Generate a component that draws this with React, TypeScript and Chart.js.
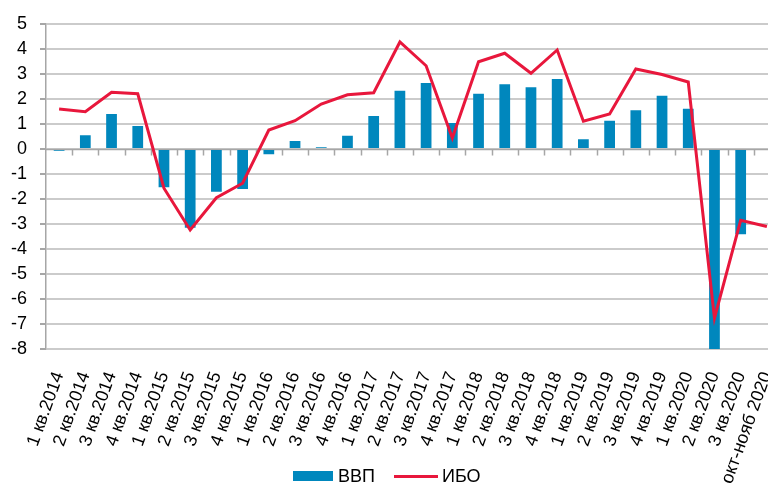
import React, { useEffect, useRef } from 'react';
import { Chart, registerables } from 'chart.js';

Chart.register(...registerables);

const categories = [
  '1 кв.2014', '2 кв.2014', '3 кв.2014', '4 кв.2014',
  '1 кв.2015', '2 кв.2015', '3 кв.2015', '4 кв.2015',
  '1 кв.2016', '2 кв.2016', '3 кв.2016', '4 кв.2016',
  '1 кв.2017', '2 кв.2017', '3 кв.2017', '4 кв.2017',
  '1 кв.2018', '2 кв.2018', '3 кв.2018', '4 кв.2018',
  '1 кв.2019', '2 кв.2019', '3 кв.2019', '4 кв.2019',
  '1 кв.2020', '2 кв.2020', '3 кв.2020', 'окт-нояб 2020',
];

const gdpValues = [
  -0.07, 0.55, 1.4, 0.92,
  -1.53, -3.15, -1.71, -1.6,
  -0.21, 0.32, 0.07, 0.53,
  1.32, 2.33, 2.64, 1.04,
  2.21, 2.59, 2.47, 2.8,
  0.39, 1.13, 1.55, 2.13,
  1.61, -8.0, -3.41, null,
];

const iboValues = [
  1.6, 1.49, 2.27, 2.21,
  -1.57, -3.24, -1.95, -1.37,
  0.76, 1.13, 1.8, 2.17,
  2.25, 4.28, 3.33, 0.44,
  3.49, 3.83, 3.03, 3.96,
  1.11, 1.4, 3.2, 2.98,
  2.68, -6.77, -2.85, -3.1,
];

const yMin = -8;
const yMax = 5;
const yStep = 1;

const seriesNames = ['ВВП', 'ИБО'];
const BLUE = '#0087BD';
const RED = '#E8173C';
const FONT = "'Liberation Sans', Arial, sans-serif";

export default function App() {
  const canvasRef = useRef<HTMLCanvasElement | null>(null);

  useEffect(() => {
    if (!canvasRef.current) return;

    const zeroAxis = {
      id: 'zeroAxis',
      beforeDatasetsDraw(chart: any) {
        const { ctx, chartArea, scales } = chart;
        const x = scales.x;
        const y = scales.y;
        const y0 = Math.round(y.getPixelForValue(0)) + 0.5;
        ctx.save();
        ctx.strokeStyle = '#A6A6A6';
        ctx.lineWidth = 1.5;
        ctx.beginPath();
        ctx.moveTo(chartArea.left, y0);
        ctx.lineTo(chartArea.right, y0);
        const n = categories.length;
        for (let i = 1; i < n; i++) {
          const px = Math.round((x.getPixelForTick(i - 1) + x.getPixelForTick(i)) / 2) + 0.5;
          ctx.moveTo(px, y0);
          ctx.lineTo(px, y0 + 6);
        }
        ctx.stroke();
        ctx.restore();
      },
    };

    const chart = new Chart(canvasRef.current, {
      type: 'bar',
      data: {
        labels: categories,
        datasets: [
          {
            type: 'line',
            label: seriesNames[1],
            data: iboValues,
            borderColor: RED,
            backgroundColor: RED,
            borderWidth: 3,
            pointRadius: 0,
            tension: 0,
            order: 0,
          } as any,
          {
            type: 'bar',
            label: seriesNames[0],
            data: gdpValues,
            backgroundColor: BLUE,
            borderWidth: 0,
            categoryPercentage: 1,
            barPercentage: 0.41,
            order: 1,
          } as any,
        ],
      },
      options: {
        animation: false,
        responsive: true,
        maintainAspectRatio: false,
        layout: { padding: { top: 24, right: 20, left: 0, bottom: 0 } },
        plugins: {
          legend: { display: false },
          tooltip: { enabled: false },
        },
        scales: {
          x: {
            offset: true,
            grid: { display: false, drawTicks: false },
            border: { display: false },
            ticks: {
              autoSkip: false,
              minRotation: 70,
              maxRotation: 70,
              padding: 20,
              color: '#000',
              font: { family: FONT, size: 18 },
            },
            afterFit: (scale: any) => {
              scale.height = 138;
              scale.paddingLeft = 0;
              scale.paddingRight = 0;
            },
          },
          y: {
            min: yMin,
            max: yMax,
            grid: {
              color: '#CBCBCB',
              lineWidth: 2,
              drawTicks: true,
              tickLength: 6,
              tickColor: '#A6A6A6',
            },
            border: { display: true, color: '#A6A6A6', width: 1.5 },
            ticks: {
              stepSize: yStep,
              padding: 13,
              color: '#000',
              font: { family: FONT, size: 18 },
            },
            afterFit: (scale: any) => {
              scale.width = 46;
            },
          },
        },
      },
      plugins: [zeroAxis],
    });

    return () => chart.destroy();
  }, []);

  return (
    <div
      style={{
        position: 'fixed',
        left: 0,
        top: 0,
        width: 768,
        height: 487,
        overflow: 'hidden',
        background: '#fff',
      }}
    >
      <div style={{ position: 'absolute', left: 0, top: 0, width: 800, height: 487 }}>
        <canvas ref={canvasRef} />
      </div>
      <div
        style={{
          position: 'absolute',
          left: 293,
          top: 464,
          height: 24,
          display: 'flex',
          alignItems: 'center',
          fontFamily: FONT,
          fontSize: 18,
          lineHeight: '24px',
          color: '#000',
          whiteSpace: 'nowrap',
        }}
      >
        <span style={{ display: 'inline-block', width: 40, height: 10, background: BLUE }} />
        <span style={{ marginLeft: 5 }}>{seriesNames[0]}</span>
        <span style={{ display: 'inline-block', width: 44, height: 3, background: RED, marginLeft: 19 }} />
        <span style={{ marginLeft: 4 }}>{seriesNames[1]}</span>
      </div>
    </div>
  );
}
